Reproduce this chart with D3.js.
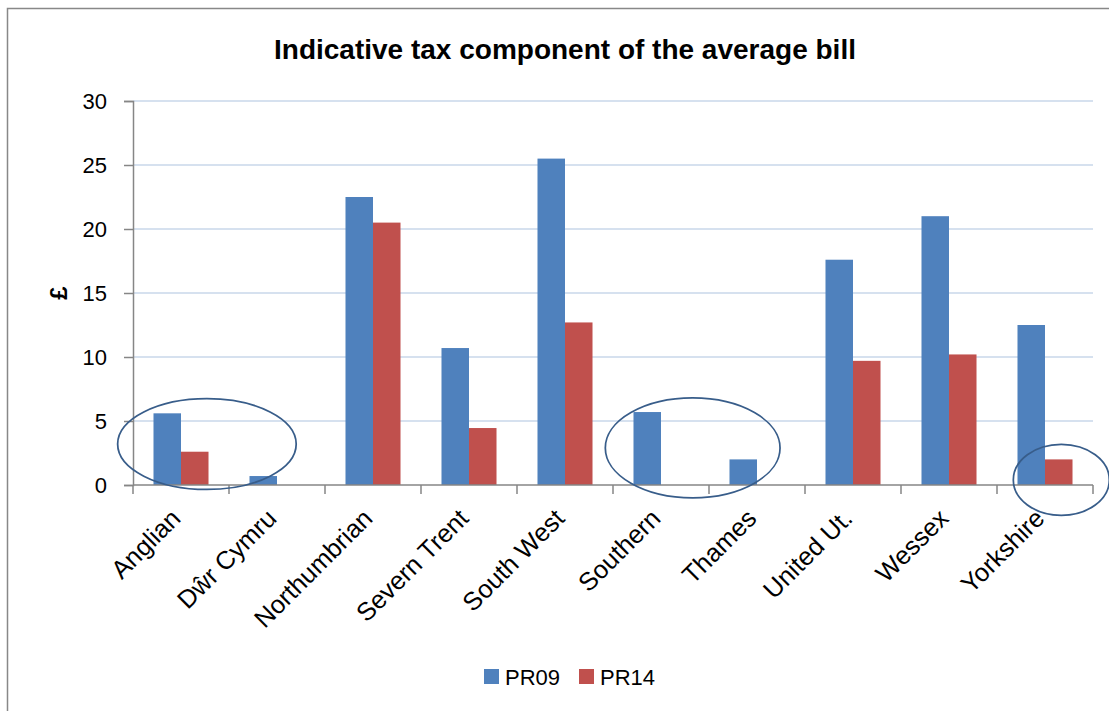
<!DOCTYPE html>
<html lang="en">
<head>
<meta charset="UTF-8">
<title>Indicative tax component of the average bill</title>
<script src="https://d3js.org/d3.v7.min.js"></script>
<style>
    body { margin: 0; padding: 0; background: #fff; }
    svg { display: block; font-family: "Liberation Sans", Arial, sans-serif; }
</style>
</head>
<body>
<div id="chart"></div>
<script>
    const companies = ["Anglian", "Dŵr Cymru", "Northumbrian", "Severn Trent", "South West",
        "Southern", "Thames", "United Ut.", "Wessex", "Yorkshire"];
    const pr09 = [5.6, 0.7, 22.5, 10.7, 25.5, 5.7, 2.0, 17.6, 21.0, 12.5];
    const pr14 = [2.6, 0, 20.5, 4.45, 12.7, 0, 0, 9.7, 10.2, 2.0];
    const seriesNames = ["PR09", "PR14"];
    const seriesColors = ["#4f81bd", "#c0504d"];
    const yTicks = [0, 5, 10, 15, 20, 25, 30];
    // circled groups: centre in band units from the left of the axis, value units for y
    const circles = [
        { cx: 0.77, rx: 0.93, cy: 3.2, ry: 3.55 },
        { cx: 5.83, rx: 0.91, cy: 2.9, ry: 3.9 },
        { cx: 9.67, rx: 0.5, cy: 0.4, ry: 2.77 }
    ];

    const width = 1109, height = 711;
    const margin = { left: 133, right: 16, top: 101, bottom: 226 };

    const svg = d3.select("#chart").append("svg")
        .attr("width", width).attr("height", height);

    // outer chart frame
    svg.append("rect")
        .attr("x", 7.5).attr("y", 8.5)
        .attr("width", width + 20).attr("height", height + 20)
        .attr("fill", "none").attr("stroke", "#888").attr("stroke-width", 1.5);

    const x = d3.scaleBand().domain(companies)
        .range([margin.left, width - margin.right]);
    const x1 = d3.scaleBand().domain(seriesNames)
        .range([0, x.bandwidth()]).paddingInner(0).paddingOuter(0.745);
    const y = d3.scaleLinear().domain([0, 30])
        .range([height - margin.bottom, margin.top]);
    const bandUnit = d3.scaleLinear().domain([0, companies.length])
        .range([margin.left, width - margin.right]);

    // gridlines
    svg.append("g").selectAll("line")
        .data(yTicks.filter(d => d > 0))
        .join("line")
        .attr("x1", margin.left).attr("x2", width - margin.right)
        .attr("y1", d => y(d)).attr("y2", d => y(d))
        .attr("stroke", "#c9d7ea").attr("stroke-width", 1.5);

    // bars
    const groups = svg.append("g").selectAll("g")
        .data(companies)
        .join("g")
        .attr("transform", d => `translate(${x(d)},0)`);
    groups.selectAll("rect")
        .data((d, i) => [pr09[i], pr14[i]].map((v, j) => ({ key: seriesNames[j], v, c: seriesColors[j] })))
        .join("rect")
        .attr("x", d => x1(d.key))
        .attr("width", x1.bandwidth())
        .attr("y", d => y(d.v))
        .attr("height", d => y(0) - y(d.v))
        .attr("fill", d => d.c);

    // y axis
    const yAxis = svg.append("g")
        .attr("transform", `translate(${margin.left},0)`)
        .call(d3.axisLeft(y).tickValues(yTicks).tickSize(9).tickPadding(17));
    yAxis.select(".domain").attr("stroke", "#868686").attr("stroke-width", 1.5);
    yAxis.selectAll(".tick line").attr("stroke", "#868686").attr("stroke-width", 1.5);
    yAxis.selectAll(".tick text").attr("font-size", 22).attr("fill", "#000")
        .attr("font-family", "Liberation Sans, Arial, sans-serif");

    // x axis
    const xAxis = svg.append("g")
        .attr("transform", `translate(0,${y(0)})`);
    xAxis.append("line")
        .attr("x1", margin.left).attr("x2", width - margin.right)
        .attr("stroke", "#868686").attr("stroke-width", 1.5);
    xAxis.selectAll(".tk")
        .data(d3.range(companies.length + 1))
        .join("line").attr("class", "tk")
        .attr("x1", d => bandUnit(d)).attr("x2", d => bandUnit(d))
        .attr("y1", 0).attr("y2", 9)
        .attr("stroke", "#868686").attr("stroke-width", 1.5);
    xAxis.selectAll("text")
        .data(companies)
        .join("text")
        .attr("transform", d => `translate(${x(d) + x.bandwidth() / 2 + 1},${35}) rotate(-45)`)
        .attr("text-anchor", "end")
        .attr("font-size", 25.5)
        .text(d => d);

    // circled annotations
    svg.append("g").selectAll("ellipse")
        .data(circles)
        .join("ellipse")
        .attr("cx", d => bandUnit(d.cx))
        .attr("cy", d => y(d.cy))
        .attr("rx", d => bandUnit(d.rx) - bandUnit(0))
        .attr("ry", d => y(0) - y(d.ry))
        .attr("fill", "none")
        .attr("stroke", "#385d8a")
        .attr("stroke-width", 1.75);

    // title
    svg.append("text")
        .attr("x", 565).attr("y", 59)
        .attr("text-anchor", "middle")
        .attr("font-size", 28).attr("font-weight", "bold")
        .text("Indicative tax component of the average bill");

    // y label
    svg.append("text")
        .attr("transform", `translate(67,${(y(0) + y(30)) / 2}) rotate(-90)`)
        .attr("text-anchor", "middle")
        .attr("font-size", 24).attr("font-weight", "bold")
        .text("£");

    // legend
    const legendX = [484, 579];
    const legend = svg.append("g").selectAll("g")
        .data(seriesNames)
        .join("g")
        .attr("transform", (d, i) => `translate(${legendX[i]},669)`);
    legend.append("rect")
        .attr("width", 15).attr("height", 15)
        .attr("fill", (d, i) => seriesColors[i]);
    legend.append("text")
        .attr("x", 21).attr("y", 16)
        .attr("font-size", 22)
        .text(d => d);
</script>
</body>
</html>
